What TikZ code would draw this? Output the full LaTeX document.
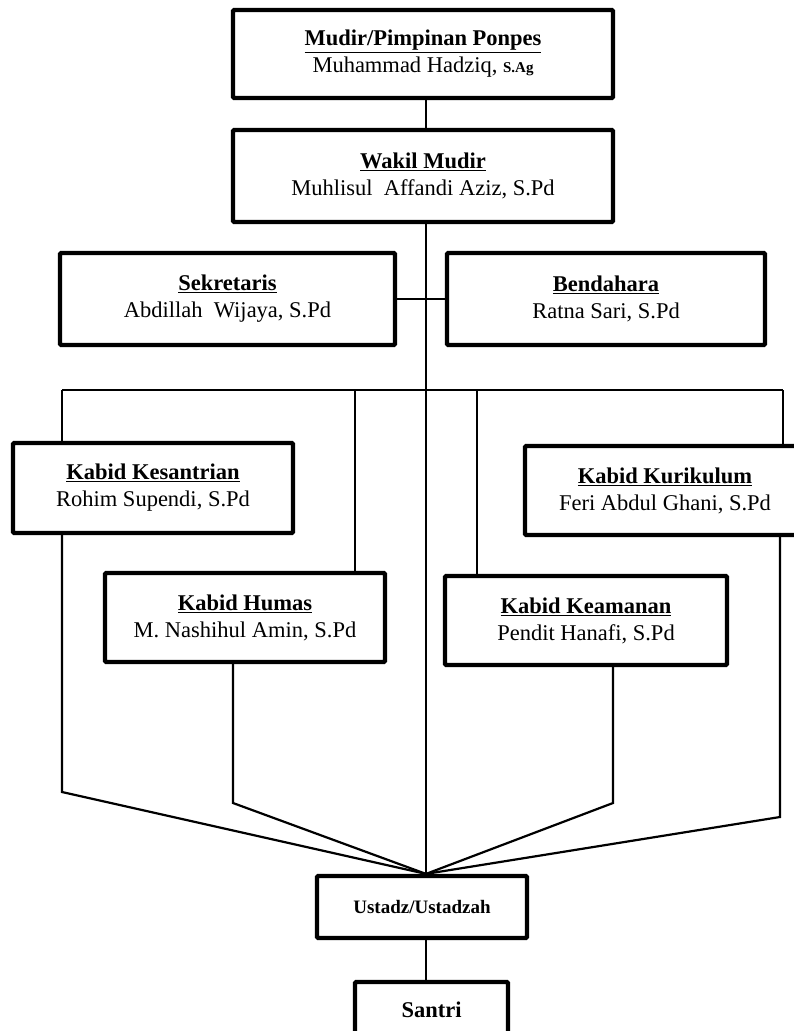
\documentclass[tikz,border=0pt]{standalone}
\usepackage{fontspec}
\setmainfont{Liberation Serif}
\begin{document}
\begin{tikzpicture}[x=1pt,y=-1pt,
  box/.style={draw, line width=4.2pt, rounded corners=1pt, fill=white, align=center, inner sep=0pt, font=\fontsize{22.5}{27}\selectfont},
  link/.style={line width=2.4pt},
  slant/.style={line width=2.2pt, line join=miter}]
\useasboundingbox (0,0) rectangle (794,1031);
\clip (0,0) rectangle (794,1031);
\fill[white] (0,0) rectangle (794,1031);

% boxes
\node[box, minimum width=380pt, minimum height=88pt] (mudir) at (423,54)
  {\underline{\textbf{Mudir/Pimpinan Ponpes}}\\Muhammad Hadziq, {\fontsize{15}{17}\selectfont\textbf{S.Ag}}};
\node[box, minimum width=380pt, minimum height=92pt] (wakil) at (423,176)
  {\underline{\textbf{Wakil Mudir}}\\Muhlisul\ \ Affandi Aziz, S.Pd};
\node[box, minimum width=335pt, minimum height=92pt] (sek) at (227.5,299)
  {\underline{\textbf{Sekretaris}}\\Abdillah\ \ Wijaya, S.Pd};
\node[box, minimum width=318pt, minimum height=92pt] (bend) at (606,299)
  {\underline{\textbf{Bendahara}}\\Ratna Sari, S.Pd};
\node[box, minimum width=280pt, minimum height=90pt] (kes) at (153,488)
  {\underline{\textbf{Kabid Kesantrian}}\\Rohim Supendi, S.Pd};
\node[box, minimum width=280pt, minimum height=89pt] (kur) at (665,490.5)
  {\underline{\textbf{Kabid Kurikulum}}\\Feri Abdul Ghani, S.Pd};
\node[box, minimum width=280pt, minimum height=89pt] (hum) at (245,617.5)
  {\underline{\textbf{Kabid Humas}}\\M. Nashihul Amin, S.Pd};
\node[box, minimum width=282pt, minimum height=89pt] (kea) at (586,620.5)
  {\underline{\textbf{Kabid Keamanan}}\\Pendit Hanafi, S.Pd};
\node[box, minimum width=210pt, minimum height=62pt, font=\fontsize{19}{22}\selectfont\bfseries] (ust) at (422,907)
  {Ustadz/Ustadzah};
\node[box, minimum width=153pt, minimum height=58pt, font=\fontsize{22.5}{26}\selectfont\bfseries] (san) at (431.5,1011)
  {\raisebox{3pt}{Santri}};

% helper coordinates
\coordinate (sp) at (426,0);
\coordinate (b1) at (62,390);
\coordinate (b2) at (355,390);
\coordinate (b3) at (477,390);
\coordinate (b4) at (783,390);
\coordinate (d1) at (62,792);
\coordinate (d2) at (233,803);
\coordinate (d3) at (613,803);
\coordinate (d4) at (780,817);
\coordinate (conv) at (ust.north -| sp);

% connectors
\draw[link] (mudir.south -| sp) -- (wakil.north -| sp);
\draw[link] (wakil.south -| sp) -- (conv);
\draw[link] (sek.east) -- (bend.west);
\draw[link] (b1) -- (b4);
\draw[link] (b1) -- (b1 |- kes.north);
\draw[link] (b2) -- (b2 |- hum.north);
\draw[link] (b3) -- (b3 |- kea.north);
\draw[link] (b4) -- (b4 |- kur.north);
\draw[slant] (kes.south -| d1) -- (d1) -- (conv);
\draw[slant] (hum.south -| d2) -- (d2) -- (conv);
\draw[slant] (kea.south -| d3) -- (d3) -- (conv);
\draw[slant] (kur.south -| d4) -- (d4) -- (conv);
\draw[link] (ust.south -| sp) -- (san.north -| sp);
\end{tikzpicture}
\end{document}
